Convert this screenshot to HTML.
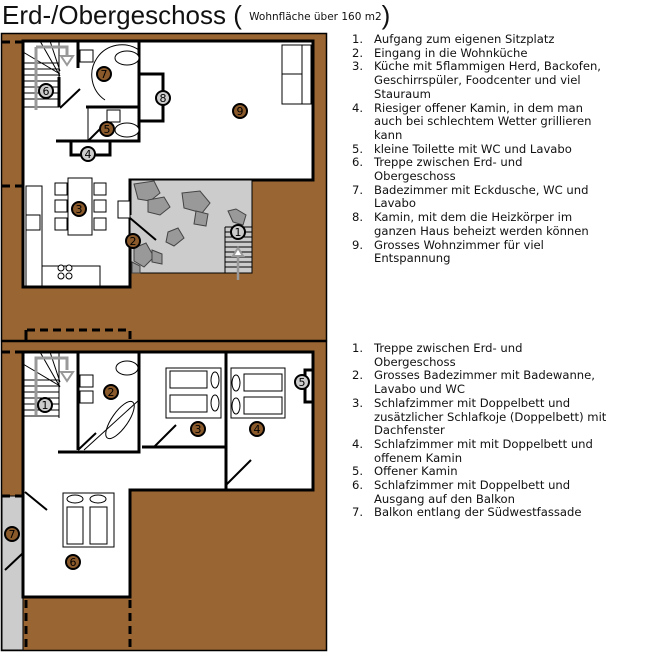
<!DOCTYPE html>
<html><head><meta charset="utf-8"><style>
body{margin:0;background:#fff;width:648px;height:652px;overflow:hidden;position:relative;font-family:"DejaVu Sans","Liberation Sans",sans-serif;}
.t{position:absolute;left:2px;top:0px;font-size:26px;font-family:"Liberation Sans",sans-serif;color:#111;white-space:nowrap;line-height:30px}
.t small{font-size:10.5px;font-family:"DejaVu Sans",sans-serif;vertical-align:4px}
.t b{font-weight:normal;font-size:26px}
.l{position:absolute;font-size:11.6px;line-height:13.7px;color:#111;white-space:nowrap}
.l div{position:relative;padding-left:22px}
.l div span{position:absolute;left:0;top:0}
</style></head><body>
<div class="t">Erd-/Obergeschoss <b>(</b> <small>Wohnfläche über 160 m2</small><b>)</b></div>
<svg width="648" height="652" style="position:absolute;left:0;top:0">
<g stroke="#000" fill="none">
<rect x="1.5" y="33.5" width="325" height="307" fill="#996633" stroke-width="1.5"/>
<rect x="1.5" y="341.5" width="325" height="309" fill="#996633" stroke-width="1.5"/>
<path d="M23 41H313V180H130V287H23Z" fill="#fff" stroke-width="3"/>
<rect x="130" y="180" width="122" height="93" fill="#ccc" stroke-width="1"/>
<g fill="#999" stroke="#444" stroke-width="1">
<path d="M134 184l20-3 6 12-10 8-12-2z"/><path d="M148 200l16-3 6 10-10 8-12-3z"/><path d="M182 193l18-2 10 12-8 10-18-5z"/><path d="M196 211l12 3-2 12-12-2z"/><path d="M228 211l8-2 10 6-3 10-10-3z"/><path d="M168 232l10-4 6 10-10 8-8-4z"/><path d="M134 248l12-5 8 14-10 10-10-6z"/><path d="M152 250l10 4 0 10-10-2z"/><path d="M132 262l8 4v7h-8z"/>
</g>
<g stroke-width="1"><path d="M225 227h27M225 232h27M225 237h27M225 242h27M225 247h27M225 252h27M225 257h27M225 262h27M225 267h27M225 227v46"/></g>
<path d="M238 280V252" stroke="#999" stroke-width="2.5"/><path d="M233 256l5-8 5 8z" stroke="#999" fill="#fff" stroke-width="2"/>
<g stroke-width="3">
<path d="M78 41V68M59 107V77M86 107H139M139 41V141H56M139 74H163V121H139"/>
<path d="M71 141v14h39v-14"/>
<path d="M130 180v35M130 240v47"/>
</g>
<g stroke-width="1"><path d="M88 107v34M23 63h36M23 69h36M23 75h36M23 81h36M23 87h36M23 93h36M23 99h36M23 107h36M59 41v36M40 41l20 35M50 41l10 30M23 52l37 22"/>
<rect x="80" y="50" width="13" height="12" fill="#fff"/><rect x="107" y="110" width="13" height="12" fill="#fff"/>
<ellipse cx="127" cy="58" rx="12" ry="7" fill="#fff"/><ellipse cx="127" cy="130" rx="12" ry="7" fill="#fff"/>
<path d="M105 100a30 30 0 0 1 34-50"/>
<rect x="26" y="186" width="16" height="100" fill="#fff"/>
<path d="M42 186v80h58v21"/><rect x="26" y="215" width="14" height="15" fill="#fff"/>
<rect x="68" y="178" width="24" height="57" fill="#fff"/>
<g fill="#fff"><rect x="55" y="183" width="12" height="12"/><rect x="55" y="200" width="12" height="12"/><rect x="55" y="218" width="12" height="12"/><rect x="94" y="183" width="12" height="12"/><rect x="94" y="200" width="12" height="12"/><rect x="94" y="218" width="12" height="12"/></g>
<rect x="118" y="201" width="12" height="17" fill="#fff"/>
<g fill="#fff"><circle cx="61" cy="268" r="3"/><circle cx="69" cy="268" r="3"/><circle cx="61" cy="276" r="3"/><circle cx="69" cy="276" r="3"/></g>
<rect x="282" y="45" width="29" height="59" fill="#fff"/><path d="M282 74h20M302 45v59"/>
</g>
<path d="M36 47V110M36 47H67V60" stroke="#999" stroke-width="3"/><path d="M61 56l6 9 6-9z" stroke="#999" stroke-width="2" fill="#fff"/>
<g stroke-width="2"><path d="M60 108l20-19M88 141l15-15M130 218l26 22"/></g>
<g stroke-width="3" stroke-dasharray="8 5"><path d="M2 42H23M2 186H23"/><path d="M26 342V330H130V342"/></g>
<line x1="1" y1="341" x2="327" y2="341" stroke-width="1.5"/>
<rect x="2" y="496" width="21" height="154" fill="#ccc" stroke-width="1"/>
<path d="M23 352H313V490H130V597H23Z" fill="#fff" stroke-width="3"/>
<g stroke-width="3"><path d="M78 352v98M139 352V452H58M142 447H226M182 447h43M226 352V490"/><path d="M313 370h-8v32h8"/><path d="M130 490v20M130 540v57"/></g>
<g stroke-width="1"><path d="M23 380h36M23 386h36M23 392h36M23 398h36M23 404h36M23 410h36M23 416h36M59 352v66M40 352l20 35M50 352l10 30M23 364l37 22M139 400L84 450"/>
<rect x="80" y="375" width="13" height="12" fill="#fff"/><rect x="80" y="391" width="13" height="12" fill="#fff"/>
<ellipse cx="127" cy="368" rx="11" ry="7" fill="#fff"/><ellipse cx="120" cy="420" rx="22" ry="8" transform="rotate(-55 120 420)"/>
<rect x="166" y="368" width="55" height="50"/><rect x="170" y="371" width="37" height="17"/><rect x="170" y="395" width="37" height="17"/><ellipse cx="215" cy="380" rx="4" ry="8"/><ellipse cx="215" cy="403" rx="4" ry="8"/>
<rect x="231" y="368" width="54" height="50"/><rect x="244" y="374" width="38" height="17"/><rect x="244" y="397" width="38" height="17"/><ellipse cx="236" cy="383" rx="4" ry="8"/><ellipse cx="236" cy="406" rx="4" ry="8"/>
<rect x="63" y="493" width="51" height="54"/><rect x="67" y="507" width="16" height="37"/><rect x="90" y="507" width="17" height="37"/><ellipse cx="75" cy="499" rx="8" ry="4"/><ellipse cx="98" cy="499" rx="8" ry="4"/>
<path d="M226 452v38"/>
</g>
<path d="M36 415V358H67V370" stroke="#999" stroke-width="3"/><path d="M61 372l6 9 6-9z" stroke="#999" stroke-width="2" fill="#fff"/>
<g stroke-width="2"><path d="M78 450l18-17M154 447l22-22M226 485l25-25M25 492l22 18M5 570l18-17"/></g>
<g stroke-width="3" stroke-dasharray="8 5"><path d="M2 352H23M2 496H23M26 600V650M130 600V650M26 330V342"/></g>
</g>
<g font-family="DejaVu Sans,sans-serif" font-size="11" text-anchor="middle" stroke="#000" stroke-width="2">
<g fill="#8b5a2b"><circle cx="104" cy="74" r="7"/><circle cx="107" cy="129" r="7"/><circle cx="240" cy="111" r="7"/><circle cx="79" cy="209" r="7"/><circle cx="133" cy="241" r="7"/>
<circle cx="111" cy="392" r="7"/><circle cx="198" cy="429" r="7"/><circle cx="257" cy="429" r="7"/><circle cx="73" cy="562" r="7"/><circle cx="12" cy="534" r="7"/></g>
<g fill="#ccc"><circle cx="46" cy="91" r="7"/><circle cx="88" cy="154" r="7"/><circle cx="163" cy="98" r="7"/><circle cx="238" cy="232" r="7"/><circle cx="45" cy="405" r="7"/><circle cx="302" cy="382" r="7"/></g>
<g fill="#000" stroke="none"><text x="104" y="78">7</text><text x="107" y="133">5</text><text x="240" y="115">9</text><text x="79" y="213">3</text><text x="133" y="245">2</text><text x="111" y="396">2</text><text x="198" y="433">3</text><text x="257" y="433">4</text><text x="73" y="566">6</text><text x="12" y="538">7</text>
<text x="46" y="95">6</text><text x="88" y="158">4</text><text x="163" y="102">8</text><text x="238" y="236">1</text><text x="45" y="409">1</text><text x="302" y="386">5</text></g>
</g>
</svg>
<div class="l" style="top:33px;left:352px">
<div><span>1.</span>Aufgang zum eigenen Sitzplatz</div>
<div><span>2.</span>Eingang in die Wohnküche</div>
<div><span>3.</span>Küche mit 5flammigen Herd, Backofen,<br>Geschirrspüler, Foodcenter und viel<br>Stauraum</div>
<div><span>4.</span>Riesiger offener Kamin, in dem man<br>auch bei schlechtem Wetter grillieren<br>kann</div>
<div><span>5.</span>kleine Toilette mit WC und Lavabo</div>
<div><span>6.</span>Treppe zwischen Erd- und<br>Obergeschoss</div>
<div><span>7.</span>Badezimmer mit Eckdusche, WC und<br>Lavabo</div>
<div><span>8.</span>Kamin, mit dem die Heizkörper im<br>ganzen Haus beheizt werden können</div>
<div><span>9.</span>Grosses Wohnzimmer für viel<br>Entspannung</div>
</div>
<div class="l" style="top:342px;left:352px">
<div><span>1.</span>Treppe zwischen Erd- und<br>Obergeschoss</div>
<div><span>2.</span>Grosses Badezimmer mit Badewanne,<br>Lavabo und WC</div>
<div><span>3.</span>Schlafzimmer mit Doppelbett und<br>zusätzlicher Schlafkoje (Doppelbett) mit<br>Dachfenster</div>
<div><span>4.</span>Schlafzimmer mit mit Doppelbett und<br>offenem Kamin</div>
<div><span>5.</span>Offener Kamin</div>
<div><span>6.</span>Schlafzimmer mit Doppelbett und<br>Ausgang auf den Balkon</div>
<div><span>7.</span>Balkon entlang der Südwestfassade</div>
</div>
</body></html>
